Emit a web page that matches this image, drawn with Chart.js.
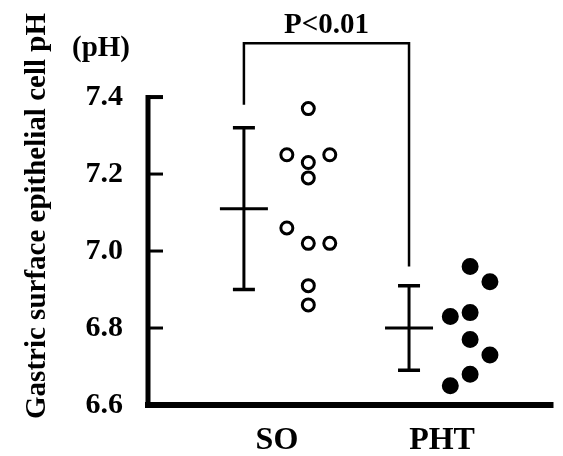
<!DOCTYPE html>
<html>
<head>
<meta charset="utf-8">
<title>Gastric surface epithelial cell pH</title>
<script src="https://cdn.jsdelivr.net/npm/chart.js@4.4.0/dist/chart.umd.min.js"></script>
<style>
  html, body { margin: 0; padding: 0; background: #fff; }
  canvas { display: block; }
</style>
</head>
<body>
<canvas id="phChart" width="563" height="456"></canvas>
<script>
// groups and axis ticks
const groups = ['SO', 'PHT'];
const yTicks = [6.6, 6.8, 7.0, 7.2, 7.4];

// individual cell pH values per group
const soValues = [7.37, 7.25, 7.23, 7.19, 7.25, 7.06, 7.02, 7.02, 6.91, 6.86];
const phtValues = [6.96, 6.92, 6.84, 6.83, 6.77, 6.73, 6.68, 6.65];
// which column of the dot cluster each value sits in
const soLane = [1, 0, 1, 1, 2, 0, 1, 2, 1, 1];
const phtLane = [1, 2, 1, 0, 1, 2, 1, 0];

// mean and SD per group
const groupMeans = [7.11, 6.80];
const groupSDs = [0.21, 0.11];

// significance bracket
const pLabel = 'P<0.01';
const bracketTop = 7.54;
const bracketEnds = [7.38, 6.96];

const SERIF = '"Liberation Serif", "Times New Roman", serif';
const barOffset = -0.2;
const laneOffset = [[0.06, 0.19, 0.32], [0.05, 0.17, 0.29]];

function toPoints(values, lanes, g) {
    return values.map((v, i) => ({ x: g + 1 + laneOffset[g][lanes[i]], y: v }));
}

// no extra room for half labels at the ends of the scales
function noEdgePadding(scale) {
    scale.paddingTop = 0;
    scale.paddingBottom = 0;
    scale.paddingLeft = 0;
    scale.paddingRight = 0;
}

// axes, mean +/- SD bars and text labels
const decorations = {
    id: 'decorations',
    afterDatasetsDraw(chart) {
        const { ctx, chartArea, scales: { x, y } } = chart;
        const yTop = y.getPixelForValue(yTicks[yTicks.length - 1]);
        const yBase = y.getPixelForValue(yTicks[0]);
        const axisX = chartArea.left + 2;

        ctx.save();
        ctx.strokeStyle = '#000';
        ctx.fillStyle = '#000';
        ctx.lineCap = 'butt';

        // y axis with a short cap at the top
        ctx.lineWidth = 5;
        ctx.beginPath();
        ctx.moveTo(axisX, yTop - 2);
        ctx.lineTo(axisX, yBase);
        ctx.stroke();

        // x axis
        ctx.lineWidth = 6;
        ctx.beginPath();
        ctx.moveTo(chartArea.left - 1, yBase);
        ctx.lineTo(chartArea.right, yBase);
        ctx.stroke();

        // inward tick marks
        yTicks.slice(1).forEach(v => {
            const py = y.getPixelForValue(v);
            ctx.lineWidth = v === yTicks[yTicks.length - 1] ? 4 : 3;
            ctx.beginPath();
            ctx.moveTo(axisX, py);
            ctx.lineTo(axisX + 15, py);
            ctx.stroke();
        });

        // mean +/- SD
        groups.forEach((g, i) => {
            const cx = x.getPixelForValue(i + 1 + barOffset);
            const hi = y.getPixelForValue(groupMeans[i] + groupSDs[i]);
            const lo = y.getPixelForValue(groupMeans[i] - groupSDs[i]);
            const mid = y.getPixelForValue(groupMeans[i]);
            ctx.lineWidth = 3;
            ctx.beginPath();
            ctx.moveTo(cx, hi);
            ctx.lineTo(cx, lo);
            ctx.stroke();
            ctx.lineWidth = 3.5;
            ctx.beginPath();
            ctx.moveTo(cx - 11, hi); ctx.lineTo(cx + 11, hi);
            ctx.moveTo(cx - 11, lo); ctx.lineTo(cx + 11, lo);
            ctx.stroke();
            ctx.lineWidth = 3;
            ctx.beginPath();
            ctx.moveTo(cx - 24, mid); ctx.lineTo(cx + 24, mid);
            ctx.stroke();
        });

        // P value above the bracket
        const left = x.getPixelForValue(1 + barOffset);
        const right = x.getPixelForValue(2 + barOffset);
        ctx.font = 'bold 29px ' + SERIF;
        ctx.textAlign = 'center';
        ctx.textBaseline = 'alphabetic';
        ctx.fillText(pLabel, (left + right) / 2, y.getPixelForValue(bracketTop) - 10);

        // unit label over the y axis
        ctx.fillText('(pH)', chartArea.left - 45, yTop - 41);
        ctx.restore();
    }
};

new Chart(document.getElementById('phChart'), {
    type: 'scatter',
    data: {
        datasets: [
            {
                label: 'SO',
                data: toPoints(soValues, soLane, 0),
                pointRadius: 6,
                pointBorderWidth: 3,
                pointBackgroundColor: '#fff',
                pointBorderColor: '#000'
            },
            {
                label: 'PHT',
                data: toPoints(phtValues, phtLane, 1),
                pointRadius: 7.5,
                pointBorderWidth: 2,
                pointBackgroundColor: '#000',
                pointBorderColor: '#000'
            },
            {
                label: pLabel,
                data: [
                    { x: 1 + barOffset, y: bracketEnds[0] },
                    { x: 1 + barOffset, y: bracketTop },
                    { x: 2 + barOffset, y: bracketTop },
                    { x: 2 + barOffset, y: bracketEnds[1] }
                ],
                showLine: true,
                borderColor: '#000',
                borderWidth: 2.5,
                pointRadius: 0,
                tension: 0
            }
        ]
    },
    options: {
        responsive: false,
        animation: false,
        layout: { padding: { top: 27, right: 0, bottom: 0, left: 0 } },
        plugins: {
            legend: { display: false },
            tooltip: { enabled: false }
        },
        scales: {
            x: {
                type: 'linear',
                min: 0.207,
                max: 2.675,
                grid: { display: false, drawTicks: false },
                border: { display: false },
                afterBuildTicks: scale => {
                    scale.ticks = groups.map((g, i) => ({ value: i + 1 }));
                },
                afterFit: scale => {
                    scale.height = 51;
                    noEdgePadding(scale);
                },
                ticks: {
                    padding: 17,
                    color: '#000',
                    font: { family: SERIF, size: 32, weight: 'bold' },
                    callback: v => groups[v - 1]
                }
            },
            y: {
                min: 6.6,
                max: 7.582,
                grid: { display: false, drawTicks: false },
                border: { display: false },
                afterBuildTicks: scale => {
                    scale.ticks = yTicks.map(v => ({ value: v }));
                },
                afterFit: scale => {
                    scale.width = 146;
                    noEdgePadding(scale);
                },
                ticks: {
                    padding: 23,
                    color: '#000',
                    font: { family: SERIF, size: 30, weight: 'bold' },
                    callback: v => v.toFixed(1)
                },
                title: {
                    display: true,
                    text: 'Gastric surface epithelial cell pH',
                    color: '#000',
                    padding: { top: 20, bottom: 0 },
                    font: { family: SERIF, size: 29, weight: 'bold' }
                }
            }
        }
    },
    plugins: [decorations]
});
</script>
</body>
</html>
